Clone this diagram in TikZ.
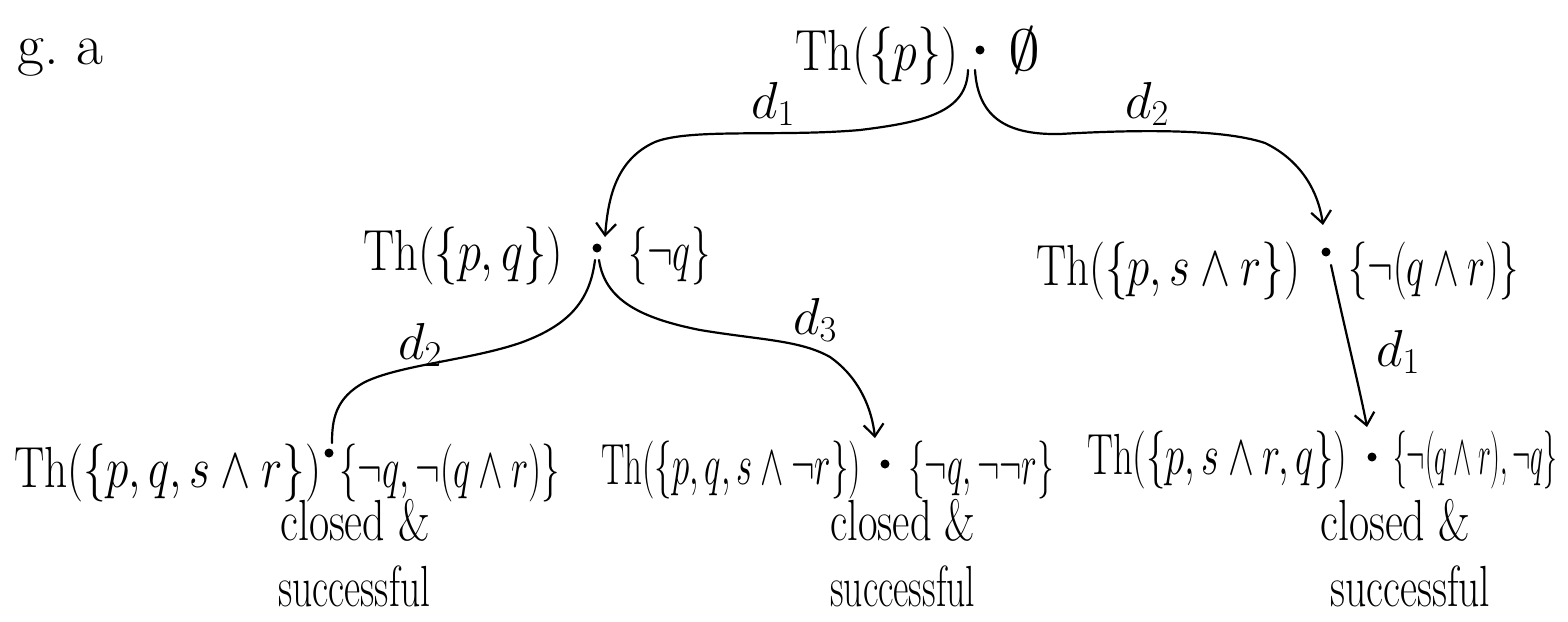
\RequirePackage{fix-cm}
\documentclass[tikz,border=0pt]{standalone}
\usepackage{amssymb}
\usepackage{graphicx}
\usetikzlibrary{arrows.meta,calc}
\tikzset{
  txt/.style={inner sep=0pt, anchor=base west, font=\fontsize{58}{64}\selectfont},
  lbl/.style={inner sep=0pt, font=\fontsize{52}{60}\selectfont},
  dotn/.style={circle, fill=black, inner sep=0pt, minimum size=9pt},
  edge/.style={line width=2.2pt, line cap=round},
  arr/.style={edge, -{Straight Barb[length=12pt,width=20pt,line width=2.2pt]}}
}
\newcommand{\fitw}[2]{\resizebox{#1pt}{\height}{#2}}
\begin{document}
\begin{tikzpicture}[x=1pt,y=-1pt]
\useasboundingbox (0,0) rectangle (1568,621);
\fill[white] (0,0) rectangle (1568,621);

% header
\node[txt] (hdr) at (17,64) {\fitw{86}{g.\ a}};

% dots
\node[dotn] (t)  at (980,50) {};
\node[dotn] (m1) at (597,248) {};
\node[dotn] (m2) at (1326,252) {};
\node[dotn] (b1) at (329,453) {};
\node[dotn] (b2) at (885,464) {};
\node[dotn] (b3) at (1372,457) {};

% texts
\node[txt] (t-th)  at (795,70)  {\fitw{163}{$\mathrm{Th}(\{p\})$}};
\node[txt] (t-set) at (1008,70) {\fitw{32}{$\emptyset$}};
\node[txt] (m1-th)  at (363,270) {\fitw{200}{$\mathrm{Th}(\{p,q\})$}};
\node[txt] (m1-set) at (628,270) {\fitw{82}{$\{\neg q\}$}};
\node[txt] (m2-th)  at (1036,285) {\fitw{264}{$\mathrm{Th}(\{p,s\wedge r\})$}};
\node[txt] (m2-set) at (1348,285) {\fitw{170}{$\{\neg(q\wedge r)\}$}};
\node[txt] (b1-th)  at (14,487) {\fitw{307}{$\mathrm{Th}(\{p,q,s\wedge r\})$}};
\node[txt] (b1-set) at (339,487) {\fitw{221}{$\{\neg q,\neg(q\wedge r)\}$}};
\node[txt] (b2-th)  at (601,484) {\fitw{260}{$\mathrm{Th}(\{p,q,s\wedge\neg r\})$}};
\node[txt] (b2-set) at (908,484) {\fitw{146}{$\{\neg q,\neg\neg r\}$}};
\node[txt] (b3-th)  at (1087,474) {\fitw{260}{$\mathrm{Th}(\{p,s\wedge r,q\})$}};
\node[txt] (b3-set) at (1393,474) {\fitw{164}{$\{\neg(q\wedge r),\neg q\}$}};

\node[txt] (b1-c) at (280,540) {\fitw{150}{closed \&}};
\node[txt] (b1-s) at (278,606) {\fitw{152}{successful}};
\node[txt] (b2-c) at (830,540) {\fitw{145}{closed \&}};
\node[txt] (b2-s) at (830,606) {\fitw{145}{successful}};
\node[txt] (b3-c) at (1320,540) {\fitw{150}{closed \&}};
\node[txt] (b3-s) at (1330,606) {\fitw{160}{successful}};

% connector end points
\coordinate (t-l) at ($(t)+(-12,20)$);
\coordinate (t-r) at ($(t)+(-5,20)$);
\coordinate (m1-in) at ($(m1)+(8,-11)$);
\coordinate (m1-l) at ($(m1)+(-2,12)$);
\coordinate (m1-r) at ($(m1)+(2,12)$);
\coordinate (m2-in) at ($(m2)+(-3,-27)$);
\coordinate (m2-out) at ($(m2)+(5,13)$);
\coordinate (b1-in) at ($(b1)+(3,-10)$);
\coordinate (b2-in) at ($(b2)+(-10,-26)$);
\coordinate (b3-in) at ($(b3)+(-5,-30)$);

% connectors
\draw[arr] (t-l) .. controls (967,112) and (925,122) .. (860,130)
  .. controls (780,137) and (690,128) .. (655,142)
  .. controls (615,160) and (608,200) .. (m1-in);
\draw[arr] (t-r) .. controls (978,120) and (1010,135) .. (1060,134)
  .. controls (1130,130) and (1220,128) .. (1265,143)
  .. controls (1300,160) and (1318,190) .. (m2-in);
\draw[edge] (m1-l) .. controls (590,300) and (570,325) .. (520,343)
  .. controls (470,360) and (400,365) .. (365,382)
  .. controls (335,398) and (332,420) .. (b1-in);
\draw[arr] (m1-r) .. controls (605,300) and (640,318) .. (700,330)
  .. controls (760,340) and (800,340) .. (830,357)
  .. controls (860,378) and (872,410) .. (b2-in);
\draw[arr] (m2-out) .. controls (1345,330) and (1360,390) .. (b3-in);

% labels
\node[lbl] (l1) at (773,104) {$d_1$};
\node[lbl] (l2) at (1147,104) {$d_2$};
\node[lbl] (l3) at (420,345) {$d_2$};
\node[lbl] (l4) at (815,320) {$d_3$};
\node[lbl] (l5) at (1398,352) {$d_1$};
\end{tikzpicture}
\end{document}
